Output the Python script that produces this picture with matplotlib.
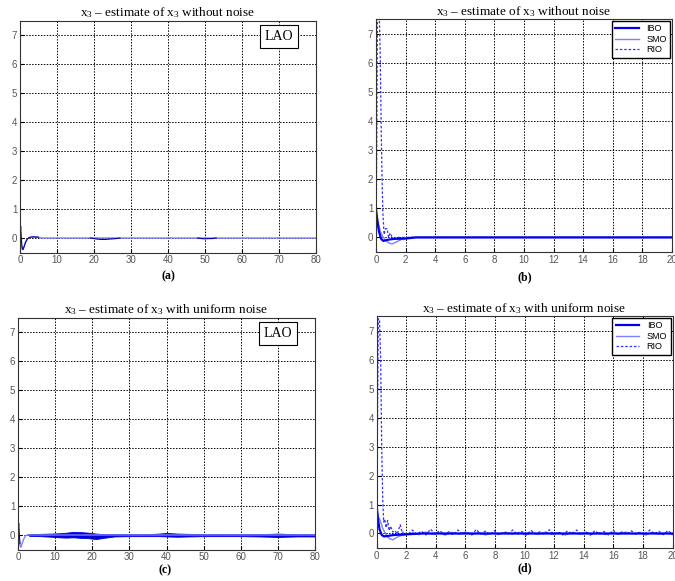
import numpy as np
import matplotlib

matplotlib.use("Agg")
import matplotlib.pyplot as plt
from matplotlib.lines import Line2D

matplotlib.rcParams["font.family"] = "Liberation Sans"
matplotlib.rcParams["mathtext.fontset"] = "custom"
matplotlib.rcParams["mathtext.rm"] = "Liberation Serif"
matplotlib.rcParams["mathtext.it"] = "Liberation Serif:italic"

# --- LAO, panel (a), t in 0..80
LAO_T = [0, 0.05, 0.15, 0.3, 0.55, 0.8, 1.1, 1.5, 2.0, 2.6, 3.2, 4.0, 5.0, 6.0, 80]
LAO_E = [1.0, 0.5, 0.1, -0.2, -0.38, -0.4, -0.3, -0.15, -0.03, 0.02, 0.03, 0.03, 0.02, 0.0, 0.0]
LAO_DARK_T = [0, 0.1, 0.2, 0.35, 0.55, 0.8, 1.1, 1.5, 2.0, 2.6, 3.2, 4.0, 5.0]
LAO_DARK_E = [0.0, 0.3, 0.4, 0.0, -0.3, -0.4, -0.3, -0.15, -0.03, 0.02, 0.04, 0.04, 0.03]
LAO_WOB_T = [19, 20, 21, 22, 23, 24, 25, 26, 27, 48, 49, 50, 51, 52, 53]
LAO_WOB_E = [0.0, -0.02, -0.04, -0.05, -0.05, -0.04, -0.03, -0.02, 0.0, 0.0, -0.02, -0.03, -0.02, -0.02, 0.0]

# --- LAO with noise, panel (c): envelope of noisy band
LAO_C_T = [0, 0.05, 0.15, 0.3, 0.55, 0.8, 1.1, 1.5, 2.0, 2.6, 3.5, 80]
LAO_C_E = [1.0, 0.4, 0.1, -0.2, -0.38, -0.42, -0.3, -0.15, -0.03, 0.01, 0.0, 0.0]
BAND_T = [3, 6, 9, 11, 13, 15, 17, 19, 21, 23, 26, 30, 35, 38, 40, 43, 46, 50, 55, 60, 65, 68, 70, 72, 75, 80]
BAND_HI = [0.03, 0.04, 0.05, 0.06, 0.08, 0.11, 0.1, 0.08, 0.05, 0.03, 0.03, 0.03, 0.03, 0.05, 0.07, 0.05, 0.04, 0.03, 0.03, 0.03, 0.03, 0.04, 0.05, 0.04, 0.03, 0.03]
BAND_LO = [-0.03, -0.04, -0.06, -0.08, -0.09, -0.08, -0.1, -0.11, -0.14, -0.1, -0.05, -0.04, -0.04, -0.04, -0.05, -0.06, -0.05, -0.04, -0.04, -0.04, -0.05, -0.06, -0.07, -0.06, -0.05, -0.05]

# --- panel (b), t in 0..20
IBO_T = [0, 0.02, 0.1, 0.2, 0.35, 0.5, 0.8, 1.2, 2.0, 2.7, 20]
IBO_B = [1.0, 0.9, 0.55, 0.2, -0.05, -0.12, -0.08, -0.05, -0.04, 0.0, 0.0]
SMO_T = [0, 0.01, 0.1, 0.3, 0.5, 0.7, 0.9, 1.1, 1.4, 1.8, 2.2, 20]
SMO_B = [7.6, 0.85, 0.6, 0.2, 0.0, -0.12, -0.2, -0.22, -0.15, -0.05, 0.0, 0.0]
RIO_T = [0, 0.05, 0.1, 0.18, 0.28, 0.36, 0.42, 0.47, 0.55, 0.65, 0.75, 0.85, 0.95, 1.05, 1.2, 1.5, 20]
RIO_B = [-0.5, 3.0, 7.6, 8.5, 6.5, 3.5, 1.8, 0.8, 0.1, 0.3, 0.3, 0.0, 0.15, 0.05, -0.02, 0.0, 0.0]

# --- panel (d), t in 0..20 with noise
IBO_D_T = [0, 0.02, 0.1, 0.2, 0.35, 0.5, 0.8, 1.2, 2.0, 3.0, 20]
IBO_D = [1.0, 0.9, 0.5, 0.15, -0.05, -0.1, -0.08, -0.05, -0.03, 0.0, 0.0]
SMO_D_T = [0, 0.02, 0.1, 0.25, 0.4, 0.55, 0.7, 0.9, 1.1, 1.3, 1.6, 2.0, 2.4]
SMO_D = [1.0, 0.8, 0.6, 0.45, 0.2, 0.05, -0.1, -0.18, -0.22, -0.15, -0.08, -0.03, 0.0]
RIO_D_T = [0, 0.06, 0.12, 0.2, 0.28, 0.35, 0.42, 0.48, 0.55, 0.65, 0.75, 0.85, 0.95, 1.1, 1.25, 1.4, 1.6, 1.75]
RIO_D = [-0.5, 3.5, 7.4, 7.4, 6.0, 3.0, 1.2, 0.4, 0.5, 0.2, 0.45, 0.1, 0.25, 0.05, 0.1, -0.02, 0.3, 0.0]
RIO_D_NOISE = [0.05, -0.04, 0.12, -0.03, 0.08, -0.05, 0.15, -0.02, 0.1, -0.04,
               0.06, -0.05, 0.12, -0.03, 0.04, -0.06, 0.14, -0.02, 0.08, -0.04,
               0.1, -0.05, 0.05, -0.03, 0.12, -0.04, 0.07, -0.05, 0.11, -0.02,
               0.06, -0.04, 0.13, -0.03, 0.05, -0.05, 0.09, -0.02, 0.12, -0.04,
               0.04, -0.06, 0.1, -0.03, 0.07, -0.05, 0.11, -0.02, 0.06, -0.04,
               0.09, -0.03, 0.05, -0.05, 0.12, -0.02, 0.08, -0.04, 0.1, -0.03]
SMO_D_NOISE = [0.03, -0.04, 0.05, -0.03, 0.02, -0.05, 0.04, -0.02, 0.05, -0.03,
               0.03, -0.05, 0.02, -0.03, 0.05, -0.02, 0.04, -0.05, 0.03, -0.03,
               0.05, -0.03, 0.02, -0.05, 0.04, -0.02, 0.05, -0.03, 0.03, -0.04,
               0.04, -0.03, 0.05, -0.02, 0.03, -0.05, 0.04, -0.03, 0.02, -0.04]

C_DARK = "#0000ee"
C_LIGHT = "#7f7fff"
C_DASH = "#3030ff"

TITLE_NN = "x$_3$ \u2013 estimate of x$_3$ without noise"
TITLE_UN = "x$_3$ \u2013 estimate of x$_3$ with uniform noise"


def style_axes(ax, xmax, xstep):
    ax.set_xlim(0, xmax)
    ax.set_ylim(-0.5, 7.5)
    ax.set_xticks(np.arange(0, xmax + 0.1, xstep))
    ax.set_yticks(range(0, 8))
    ax.tick_params(direction="in", length=3, labelsize=7, labelcolor="#555555", pad=2)
    ax.grid(True, color="black", linestyle=(0, (1.5, 1.5)), linewidth=0.7)
    for spine in ax.spines.values():
        spine.set_color("#333333")
        spine.set_linewidth(0.8)


def lao_box(ax):
    ax.text(0.875, 0.93, "LAO", transform=ax.transAxes, ha="center", va="center",
            fontsize=10, family="Liberation Serif",
            bbox=dict(boxstyle="square,pad=0.35", facecolor="white", edgecolor="black", linewidth=0.8))


def legend(ax):
    handles = [
        Line2D([], [], color=C_DARK, linewidth=1.6),
        Line2D([], [], color=C_LIGHT, linewidth=1.0),
        Line2D([], [], color=C_DASH, linewidth=0.9, linestyle=(0, (2, 1.5))),
    ]
    ax.legend(handles, ["IBO", "SMO", "RIO"], loc="upper right", fontsize=6.5,
              fancybox=False, edgecolor="black", framealpha=1, borderaxespad=0.2,
              handlelength=2.6, labelspacing=0.15, borderpad=0.4)


fig = plt.figure(figsize=(6.75, 5.81), dpi=100)
ax_a = fig.add_axes([0.0296, 0.5654, 0.4385, 0.3993])
ax_b = fig.add_axes([0.557, 0.5663, 0.4385, 0.4010])
ax_c = fig.add_axes([0.0267, 0.0542, 0.4400, 0.3993])
ax_d = fig.add_axes([0.5578, 0.0568, 0.4385, 0.3993])

# (a)
ax_a.plot(LAO_T, LAO_E, color=C_LIGHT, linewidth=1.0)
ax_a.plot(LAO_DARK_T, LAO_DARK_E, color="#0000aa", linewidth=0.8)
ax_a.plot(LAO_WOB_T[:9], LAO_WOB_E[:9], color="#0000aa", linewidth=0.8)
ax_a.plot(LAO_WOB_T[9:], LAO_WOB_E[9:], color="#0000aa", linewidth=0.8)
style_axes(ax_a, 80, 10)
lao_box(ax_a)
ax_a.set_title(TITLE_NN, fontsize=9.5, family="Liberation Serif", pad=3)

# (b)
ax_b.plot(SMO_T, SMO_B, color=C_LIGHT, linewidth=1.0)
ax_b.plot(RIO_T, RIO_B, color=C_DASH, linewidth=0.9, linestyle=(0, (2, 1.5)))
ax_b.plot(IBO_T, IBO_B, color=C_DARK, linewidth=1.6)
style_axes(ax_b, 20, 2)
legend(ax_b)
ax_b.set_title(TITLE_NN, fontsize=9.5, family="Liberation Serif", pad=3)

# (c)
ax_c.plot(LAO_C_T, LAO_C_E, color=C_LIGHT, linewidth=1.0)
ax_c.fill_between(BAND_T, BAND_LO, BAND_HI, color="#0000dd", linewidth=0.6)
ax_c.plot(LAO_DARK_T[:5], LAO_DARK_E[:5], color="#0000aa", linewidth=0.8)
style_axes(ax_c, 80, 10)
lao_box(ax_c)
ax_c.set_title(TITLE_UN, fontsize=9.5, family="Liberation Serif", pad=3)

# (d)
noise_t = np.linspace(1.8, 20, len(RIO_D_NOISE))
smo_noise_t = np.linspace(2.4, 20, len(SMO_D_NOISE))
ax_d.plot(list(SMO_D_T) + list(smo_noise_t), list(SMO_D) + SMO_D_NOISE, color=C_LIGHT, linewidth=1.0)
ax_d.plot(list(RIO_D_T) + list(noise_t), list(RIO_D) + RIO_D_NOISE, color=C_DASH,
          linewidth=0.9, linestyle=(0, (2, 1.5)))
ax_d.plot(IBO_D_T, IBO_D, color=C_DARK, linewidth=1.6)
style_axes(ax_d, 20, 2)
legend(ax_d)
ax_d.set_title(TITLE_UN, fontsize=9.5, family="Liberation Serif", pad=3)

for label, x, y in [("(a)", 0.249, 0.525), ("(b)", 0.778, 0.522),
                    ("(c)", 0.245, 0.018), ("(d)", 0.778, 0.022)]:
    fig.text(x, y, label, ha="center", va="center", fontsize=8.5,
             family="Liberation Serif", weight="bold")

fig.savefig("out.png", dpi=100)
